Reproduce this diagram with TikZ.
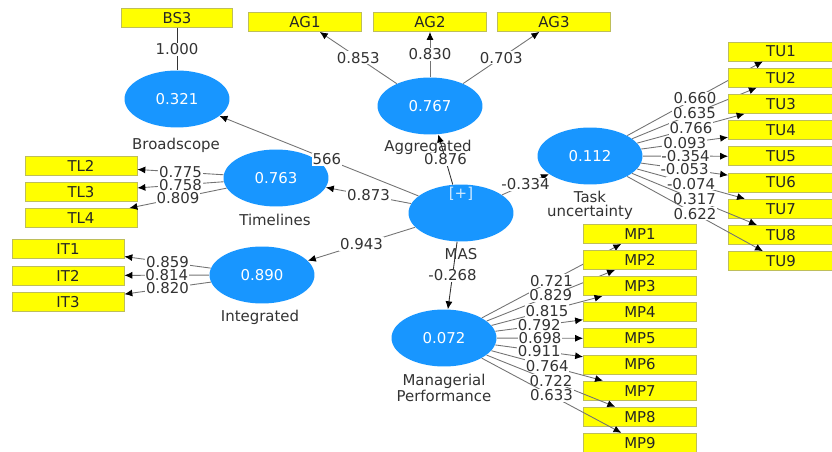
\documentclass[tikz,border=0pt]{standalone}
\usepackage{fontspec}
\setmainfont{DejaVu Sans}
\usetikzlibrary{arrows,arrows.meta,shapes.geometric}
\definecolor{lvblue}{RGB}{24,150,255}
\definecolor{mvyellow}{RGB}{255,255,0}
\definecolor{mvborder}{RGB}{190,190,90}
\tikzset{
  latent/.style = {ellipse, fill=lvblue, text=white, minimum width=2.1cm, minimum height=1.14cm, inner sep=0pt},
  indicator/.style = {rectangle, fill=mvyellow, draw=mvborder, line width=0.5pt, text=black!85, minimum width=2.26cm, minimum height=0.38cm, inner sep=0pt},
  lvname/.style = {text=black!80, align=center},
  link/.style = {black!55, line width=0.5pt},
  tip/.style = {-{Latex[black, length=4.5pt, width=4pt]}},
  loading/.style = {midway, fill=white, text=black!80, inner sep=0.5pt}
}

\begin{document}
\begin{tikzpicture}[x=0.02cm, y=-0.02cm, font=\fontsize{8.5}{8}\selectfont]
	\useasboundingbox (0,0) rectangle (832,452);
	% constructs
	\node [latent] (bs) at (177,99) {0.321};
	\node [latent] (ag) at (430,106) {0.767};
	\node [latent] (tu) at (590,156) {0.112};
	\node [latent] (tl) at (276,178) {0.763};
	\node [latent] (it) at (262,275) {0.890};
	\node [latent] (mas) at (461,213) {};
	\node [latent] (mp) at (444,338) {0.072};
	\node [text=white!80!lvblue] (masplus) at (461,194) {[+]};
	\node [lvname] (bsname) at (176,145) {Broadscope};
	\node [lvname] (agname) at (428,147) {Aggregated};
	\node [lvname] (tuname) at (590,205) {Task\\uncertainty};
	\node [lvname] (tlname) at (275,220) {Timelines};
	\node [lvname] (itname) at (260,317) {Integrated};
	\node [lvname] (masname) at (461,254) {MAS};
	\node [lvname] (mpname) at (444,388) {Managerial\\Performance};
	% structural paths
	\draw [link, tip] (mas) -- (bs) node [loading, pos=0.46] {566};
	\draw [link, tip] (mas) -- (tl) node [loading] {0.873};
	\draw [link, tip] (mas) -- (it) node [loading] {0.943};
	\draw [link, black!80, tip] (mas) -- (ag) node [loading] {0.876};
	\draw [link, tip] (mas) -- (tu) node [loading] {-0.334};
	\draw [link, black!80, tip] (mas) -- (mp) node [loading] {-0.268};
	% indicators
	\node [indicator, minimum width=2.22cm] (bs3) at (177,18) {BS3};
	\draw [link, black!80] (bs3) -- (bs) node [loading] {1.000};
	\foreach \i/\x/\v in {1/305/0.853, 2/430/0.830, 3/554/0.703} {
		\node [indicator] (ag\i) at (\x,22) {AG\i};
		\draw [link, tip] (ag) -- (ag\i) node [loading] {\v};
	}
	\foreach \i/\v in {2/0.775, 3/0.758, 4/0.809} {
		\node [indicator, minimum width=2.24cm] (tl\i) at (81, {166+26*(\i-2)}) {TL\i};
		\draw [link, tip] (tl) -- (tl\i) node [loading] {\v};
	}
	\foreach \i/\v in {1/0.859, 2/0.814, 3/0.820} {
		\node [indicator, minimum width=2.24cm] (it\i) at (68, {249+26.5*(\i-1)}) {IT\i};
		\draw [link, tip] (it) -- (it\i) node [loading] {\v};
	}
	\foreach \i/\v in {1/0.660, 2/0.635, 3/0.766, 4/0.093, 5/-0.354, 6/-0.053, 7/-0.074, 8/0.317, 9/0.622} {
		\node [indicator, minimum width=2.1cm] (tu\i) at (781, {51.5+26.2*(\i-1)}) {TU\i};
		\draw [link, tip] (tu) -- (tu\i) node [loading] {\v};
	}
	\foreach \i/\v in {1/0.721, 2/0.829, 3/0.815, 4/0.792, 5/0.698, 6/0.911, 7/0.764, 8/0.722, 9/0.633} {
		\node [indicator] (mp\i) at (640, {234+26.1*(\i-1)}) {MP\i};
		\draw [link, tip] (mp) -- (mp\i) node [loading] {\v};
	}
\end{tikzpicture}
\end{document}
